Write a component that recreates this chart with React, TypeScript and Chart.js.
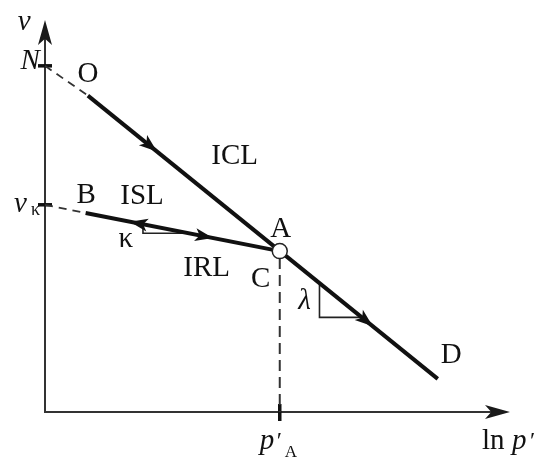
import { useEffect, useRef } from "react";
import { Chart, registerables } from "chart.js";

Chart.register(...registerables);

// ln p' on x, specific volume v on y (arbitrary units)
const iclLine = [
  { x: 0.95, y: 6.49 }, // O
  { x: 8.7, y: 0.68 }, // D
];
const iclExtension = [
  { x: 0, y: 7.1 }, // N
  { x: 0.95, y: 6.49 },
];
const unloadLine = [
  { x: 0.9, y: 4.08 }, // B
  { x: 5.2, y: 3.3 }, // A
];
const unloadExtension = [
  { x: 0, y: 4.25 }, // v_kappa
  { x: 0.9, y: 4.08 },
];
const pointA = [{ x: 5.2, y: 3.3 }];
const dropFromA = [
  { x: 5.2, y: 3.16 },
  { x: 5.2, y: 0 },
];

// Axis tick values
const vTicks = [7.1, 4.25]; // N, v_kappa
const pTicks = [5.2]; // p'_A

// Direction arrows along the paths: x position of the tip, +1 toward larger p'
const iclArrows = [
  { at: 2.48, dir: 1 },
  { at: 7.26, dir: 1 },
];
const unloadArrows = [
  { at: 1.88, dir: -1 },
  { at: 3.72, dir: 1 },
];

// Slope triangles (vertical leg then horizontal leg)
const lambdaTriangle = [
  { x: 6.08, y: 2.64 },
  { x: 6.08, y: 1.94 },
  { x: 7.01, y: 1.94 },
];
const kappaTriangle = [
  { x: 2.17, y: 3.85 },
  { x: 2.17, y: 3.665 },
  { x: 3.2, y: 3.665 },
];

type Label = { text: string; x: number; y: number; italic?: boolean; size?: number };
const labels: Label[] = [
  { text: "v", x: -0.46, y: 8.0, italic: true },
  { text: "N", x: -0.33, y: 7.2, italic: true },
  { text: "O", x: 0.95, y: 6.93 },
  { text: "ICL", x: 4.2, y: 5.25 },
  { text: "B", x: 0.91, y: 4.45 },
  { text: "ISL", x: 2.15, y: 4.43 },
  { text: "κ", x: 1.79, y: 3.53 },
  { text: "IRL", x: 3.58, y: 2.95 },
  { text: "A", x: 5.22, y: 3.75 },
  { text: "C", x: 4.78, y: 2.73 },
  { text: "λ", x: 5.75, y: 2.26, italic: true },
  { text: "D", x: 9.0, y: 1.17 },
];

const SERIF = '"Liberation Serif", "DejaVu Serif", serif';
const font = (size: number, italic = false) => `${italic ? "italic " : ""}${size}px ${SERIF}`;
const INK = "#111";
const LABEL_SIZE = 29;

function lineY(pts: { x: number; y: number }[], x: number) {
  const [a, b] = pts;
  return a.y + ((b.y - a.y) * (x - a.x)) / (b.x - a.x);
}

function arrowHead(ctx: CanvasRenderingContext2D, tx: number, ty: number, dx: number, dy: number, len: number, half: number) {
  const n = Math.hypot(dx, dy);
  const ux = dx / n;
  const uy = dy / n;
  const bx = tx - ux * len;
  const by = ty - uy * len;
  const nx = tx - ux * len * 0.75;
  const ny = ty - uy * len * 0.75;
  ctx.beginPath();
  ctx.moveTo(tx, ty);
  ctx.lineTo(bx - uy * half, by + ux * half);
  ctx.lineTo(nx, ny);
  ctx.lineTo(bx + uy * half, by - ux * half);
  ctx.closePath();
  ctx.fill();
}

const diagramPlugin = {
  id: "diagram",
  beforeDatasetsDraw(chart: any) {
    const ctx: CanvasRenderingContext2D = chart.ctx;
    const xs = chart.scales.x;
    const ys = chart.scales.y;
    const ox = xs.getPixelForValue(0);
    const oy = ys.getPixelForValue(0);
    const top = ys.getPixelForValue(ys.max);
    const right = xs.getPixelForValue(xs.max);
    ctx.save();
    // axes
    ctx.strokeStyle = "#333";
    ctx.fillStyle = "#1a1a1a";
    ctx.lineWidth = 2;
    ctx.beginPath();
    ctx.moveTo(ox, top + 16);
    ctx.lineTo(ox, oy);
    ctx.lineTo(right - 16, oy);
    ctx.stroke();
    arrowHead(ctx, ox, top, 0, -1, 25, 7);
    arrowHead(ctx, right, oy, 1, 0, 25, 7);
    // ticks
    ctx.strokeStyle = INK;
    ctx.lineWidth = 3.5;
    vTicks.forEach((v) => {
      const py = ys.getPixelForValue(v);
      ctx.beginPath();
      ctx.moveTo(ox - 7, py);
      ctx.lineTo(ox + 7, py);
      ctx.stroke();
    });
    pTicks.forEach((p) => {
      const px = xs.getPixelForValue(p);
      ctx.beginPath();
      ctx.moveTo(px, oy - 8);
      ctx.lineTo(px, oy + 9);
      ctx.stroke();
    });
    // slope triangles
    ctx.strokeStyle = "#222";
    ctx.lineWidth = 1.6;
    [lambdaTriangle, kappaTriangle].forEach((tri) => {
      ctx.beginPath();
      tri.forEach((p, i) => {
        const px = xs.getPixelForValue(p.x);
        const py = ys.getPixelForValue(p.y);
        if (i === 0) ctx.moveTo(px, py);
        else ctx.lineTo(px, py);
      });
      ctx.stroke();
    });
    ctx.restore();
  },
  afterDatasetsDraw(chart: any) {
    const ctx: CanvasRenderingContext2D = chart.ctx;
    const xs = chart.scales.x;
    const ys = chart.scales.y;
    ctx.save();
    ctx.fillStyle = INK;
    // path direction arrows
    const drawArrows = (pts: { x: number; y: number }[], arrows: { at: number; dir: number }[]) => {
      const dx = xs.getPixelForValue(pts[1].x) - xs.getPixelForValue(pts[0].x);
      const dy = ys.getPixelForValue(pts[1].y) - ys.getPixelForValue(pts[0].y);
      arrows.forEach((a) => {
        const tx = xs.getPixelForValue(a.at);
        const ty = ys.getPixelForValue(lineY(pts, a.at));
        arrowHead(ctx, tx, ty, dx * a.dir, dy * a.dir, 18, 6.5);
      });
    };
    drawArrows(iclLine, iclArrows);
    drawArrows(unloadLine, unloadArrows);

    // labels
    ctx.textAlign = "center";
    ctx.textBaseline = "middle";
    labels.forEach((l) => {
      ctx.font = font(l.size ?? LABEL_SIZE, l.italic);
      ctx.fillText(l.text, xs.getPixelForValue(l.x), ys.getPixelForValue(l.y));
    });

    // v_kappa
    const vkY = ys.getPixelForValue(vTicks[1]);
    const ox = xs.getPixelForValue(0);
    ctx.textAlign = "left";
    ctx.textBaseline = "alphabetic";
    ctx.font = font(LABEL_SIZE, true);
    ctx.fillText("v", ox - 31, vkY + 7);
    ctx.font = font(18);
    ctx.fillText("κ", ox - 14, vkY + 10);

    // x-axis labels: p'_A and ln p'
    const oy = ys.getPixelForValue(0);
    const base = oy + 37;
    const pA = xs.getPixelForValue(pTicks[0]);
    ctx.font = font(LABEL_SIZE, true);
    ctx.fillText("p", pA - 20, base);
    ctx.font = font(24);
    ctx.fillText("′", pA - 3, base - 1);
    ctx.font = font(17);
    ctx.fillText("A", pA + 5, base + 8);

    const right = xs.getPixelForValue(xs.max);
    ctx.font = font(LABEL_SIZE);
    ctx.fillText("ln", right - 28, base);
    ctx.font = font(LABEL_SIZE, true);
    ctx.fillText("p", right + 2, base);
    ctx.font = font(24);
    ctx.fillText("′", right + 20, base - 1);
    ctx.restore();
  },
};

export default function App() {
  const canvasRef = useRef<HTMLCanvasElement | null>(null);

  useEffect(() => {
    if (!canvasRef.current) return;
    const solid = { borderColor: INK, pointRadius: 0, showLine: true, fill: false };
    const chart = new Chart(canvasRef.current, {
      type: "scatter",
      data: {
        datasets: [
          {
            label: "A",
            data: pointA,
            pointRadius: 7.5,
            pointBackgroundColor: "#fff",
            pointBorderColor: "#222",
            pointBorderWidth: 1.5,
            showLine: false,
            order: 0,
          },
          { label: "ICL", data: iclLine, ...solid, borderWidth: 4, order: 1 },
          { label: "URL", data: unloadLine, ...solid, borderWidth: 4, order: 1 },
          {
            label: "ICL ext",
            data: iclExtension,
            ...solid,
            borderColor: "#333",
            borderWidth: 1.8,
            borderDash: [8, 6],
            order: 2,
          },
          {
            label: "URL ext",
            data: unloadExtension,
            ...solid,
            borderColor: "#333",
            borderWidth: 1.8,
            borderDash: [8, 6],
            order: 2,
          },
          {
            label: "p'A",
            data: dropFromA,
            ...solid,
            borderColor: "#333",
            borderWidth: 2,
            borderDash: [11, 6],
            order: 2,
          },
        ],
      },
      options: {
        animation: false,
        responsive: false,
        maintainAspectRatio: false,
        layout: { padding: { left: 45, right: 31, top: 20, bottom: 53 } },
        plugins: { legend: { display: false }, tooltip: { enabled: false } },
        scales: {
          x: { type: "linear", min: 0, max: 10.3, display: false },
          y: { type: "linear", min: 0, max: 8.04, display: false },
        },
        elements: { line: { tension: 0 } },
        clip: false,
      } as any,
      plugins: [diagramPlugin],
    });
    return () => chart.destroy();
  }, []);

  return (
    <div style={{ position: "absolute", left: 0, top: 0, width: 541, height: 465, background: "#fff" }}>
      <canvas ref={canvasRef} width={541} height={465} />
    </div>
  );
}
